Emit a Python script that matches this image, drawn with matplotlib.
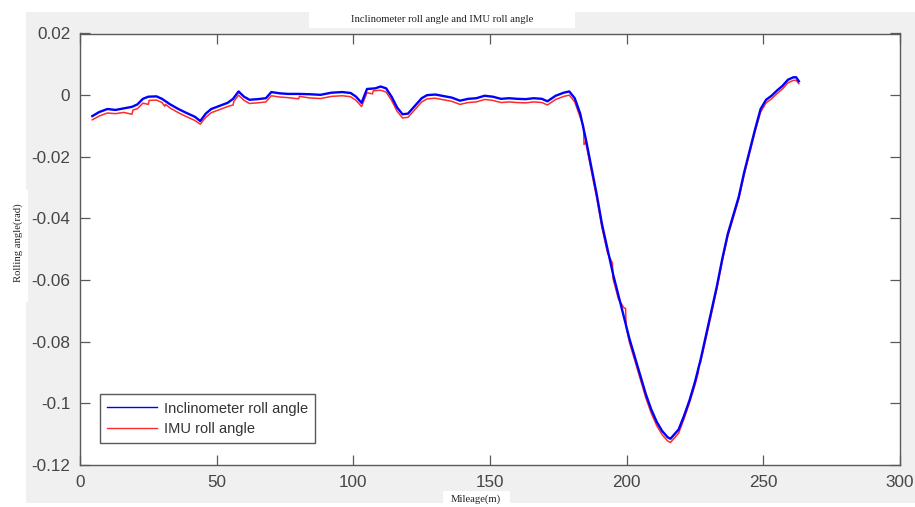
import numpy as np
import matplotlib
matplotlib.use('Agg')
import matplotlib.pyplot as plt
from matplotlib.patches import Rectangle

# inclinometer roll angle (rad) vs mileage (m)
incl_x = [4.5, 7, 10, 13, 16, 19, 21, 23, 25, 28, 30, 33, 36, 39, 42, 44, 46, 48, 51, 54,
          56, 58, 60, 62, 65, 68, 70, 73, 76, 80, 84, 88, 92, 96, 99, 101, 103, 105, 108, 110,
          112, 114, 116, 118, 120, 122, 125, 127, 130, 133, 136, 139, 142, 145, 148, 151, 154, 157, 160, 163,
          166, 169, 171, 174, 177, 179, 181, 183, 185, 187, 189, 191, 193, 195, 197, 199, 201, 203, 205, 207,
          209, 211, 213, 215, 216, 217, 219, 221, 223, 225, 227, 229, 231, 233, 235, 237, 239, 241, 243, 245,
          247, 249, 251, 253, 255, 257, 259, 261, 262, 263]
incl_y = [-0.0068, -0.0055, -0.0045, -0.0048, -0.0043, -0.0038, -0.0030, -0.0012, -0.0005, -0.0004,
          -0.0012, -0.0030, -0.0045, -0.0058, -0.0070, -0.0084, -0.0060, -0.0045, -0.0035, -0.0025,
          -0.0012, 0.0012, -0.0005, -0.0015, -0.0013, -0.0010, 0.0010, 0.0006, 0.0004, 0.0004,
          0.0003, 0.0001, 0.0008, 0.0010, 0.0007, -0.0005, -0.0025, 0.0020, 0.0022, 0.0028,
          0.0022, -0.0005, -0.0040, -0.0062, -0.0060, -0.0040, -0.0010, 0.0000, 0.0002, -0.0003,
          -0.0008, -0.0018, -0.0012, -0.0010, -0.0002, -0.0005, -0.0012, -0.0010, -0.0012, -0.0013,
          -0.0010, -0.0012, -0.0020, -0.0002, 0.0008, 0.0012, -0.0010, -0.0060, -0.0140, -0.0230,
          -0.0320, -0.0420, -0.0500, -0.0580, -0.0650, -0.0720, -0.0790, -0.0850, -0.0910, -0.0970,
          -0.1020, -0.1060, -0.1090, -0.1110, -0.1115, -0.1105, -0.1085, -0.1040, -0.0990, -0.0930,
          -0.0860, -0.0780, -0.0700, -0.0620, -0.0530, -0.0450, -0.0390, -0.0330, -0.0250, -0.0180,
          -0.0110, -0.0045, -0.0015, -0.0002, 0.0015, 0.0030, 0.0050, 0.0058, 0.0058, 0.0045]

# IMU roll angle (rad) vs mileage (m)
imu_x = [4.5, 7, 10, 13, 16, 19, 19.4, 21, 23, 25, 25.3, 28, 30, 31, 31.3, 33, 36, 39, 42, 44,
         46, 48, 51, 54, 56, 56.3, 58, 60, 62, 65, 68, 70, 73, 76, 80, 80.3, 84, 88, 92, 96,
         99, 101, 103, 105, 107, 107.3, 110, 112, 114, 116, 118, 120, 122, 125, 127, 130, 133, 136, 139, 142,
         145, 148, 151, 154, 157, 160, 163, 166, 169, 171, 174, 177, 179, 181, 183, 184.2, 184.4, 185, 187, 189,
         191, 193, 194.8, 195.0, 197, 199, 199.6, 199.8, 201, 203, 205, 207, 209, 211, 213, 215, 216, 217, 219, 221,
         223, 225, 226.2, 226.4, 227, 229, 231, 233, 235, 237, 239, 241, 243, 245, 247, 249, 251, 253, 255, 257,
         259, 261, 262, 263]
imu_y = [-0.0080, -0.0068, -0.0058, -0.0060, -0.0056, -0.0062, -0.0048, -0.0044, -0.0026, -0.0030,
         -0.0017, -0.0016, -0.0024, -0.0036, -0.0030, -0.0042, -0.0057, -0.0070, -0.0082, -0.0094,
         -0.0072, -0.0057, -0.0047, -0.0037, -0.0032, -0.0020, 0.0000, -0.0017, -0.0027, -0.0025,
         -0.0022, -0.0002, -0.0006, -0.0008, -0.0012, -0.0004, -0.0009, -0.0011, -0.0004, -0.0002,
         -0.0005, -0.0017, -0.0037, 0.0008, 0.0004, 0.0014, 0.0016, 0.0010, -0.0017, -0.0052,
         -0.0074, -0.0072, -0.0052, -0.0022, -0.0012, -0.0010, -0.0015, -0.0020, -0.0030, -0.0024,
         -0.0022, -0.0014, -0.0017, -0.0024, -0.0022, -0.0024, -0.0025, -0.0022, -0.0024, -0.0032,
         -0.0014, -0.0004, 0.0000, -0.0022, -0.0072, -0.0100, -0.0160, -0.0152, -0.0242, -0.0332,
         -0.0432, -0.0512, -0.0545, -0.0595, -0.0662, -0.0690, -0.0692, -0.0752, -0.0802, -0.0862,
         -0.0922, -0.0982, -0.1032, -0.1072, -0.1102, -0.1122, -0.1127, -0.1117, -0.1097, -0.1050,
         -0.0998, -0.0940, -0.0900, -0.0875, -0.0868, -0.0790, -0.0710, -0.0628, -0.0538, -0.0458,
         -0.0398, -0.0338, -0.0258, -0.0188, -0.0118, -0.0055, -0.0025, -0.0012, 0.0005, 0.0020,
         0.0040, 0.0048, 0.0048, 0.0037]

x_ticks = [0, 50, 100, 150, 200, 250, 300]
y_ticks = [0.02, 0, -0.02, -0.04, -0.06, -0.08, -0.1, -0.12]
y_tick_labels = ['0.02', '0', '-0.02', '-0.04', '-0.06', '-0.08', '-0.1', '-0.12']

W, H = 915, 507
fig = plt.figure(figsize=(W / 100, H / 100), dpi=100)
fig.patch.set_facecolor('white')

# gray MATLAB figure area and the white boxes behind the labels
fig.patches.append(Rectangle((26 / W, 1 - 503 / H), 1 - 26 / W, (503 - 12) / H,
                             transform=fig.transFigure, facecolor='#f0f0f0', edgecolor='none', zorder=-2))
for bx0, by0, bx1, by1 in [(309, 12, 575, 28), (0, 190, 28, 302), (443, 491, 510, 507)]:
    fig.patches.append(Rectangle((bx0 / W, 1 - by1 / H), (bx1 - bx0) / W, (by1 - by0) / H,
                                 transform=fig.transFigure, facecolor='white', edgecolor='none', zorder=-1))

ax = fig.add_axes([80 / W, 1 - 465 / H, 820 / W, (465 - 33.5) / H])
ax.set_facecolor('white')

ax.plot(imu_x, imu_y, color='#ff2a2a', linewidth=1.1, label='IMU roll angle', zorder=2)
ax.plot(incl_x, incl_y, color='#0000ff', linewidth=1.7, label='Inclinometer roll angle', zorder=3)

ax.set_xlim(0, 300)
ax.set_ylim(-0.12, 0.02)
ax.set_xticks(x_ticks)
ax.set_xticklabels([str(v) for v in x_ticks])
ax.set_yticks(y_ticks)
ax.set_yticklabels(y_tick_labels)
ax.tick_params(direction='in', length=7, width=0.9, color='#5a5a5a', labelcolor='#454545',
               labelsize=12.3, top=True, right=True, pad=7)
for lab in ax.get_xticklabels() + ax.get_yticklabels():
    lab.set_family('Liberation Sans')
for sp in ax.spines.values():
    sp.set_color('#5a5a5a')
    sp.set_linewidth(1.0)

handles, labels = ax.get_legend_handles_labels()
leg = ax.legend(handles[::-1], labels[::-1], loc='lower left', bbox_to_anchor=(0.024, 0.05),
                prop={'family': 'Liberation Sans', 'size': 10.5}, handlelength=3.4, fancybox=False,
                borderaxespad=0, framealpha=1, labelspacing=0.45, borderpad=0.5, handletextpad=0.5)
leg.get_frame().set_edgecolor('#5a5a5a')
leg.get_frame().set_linewidth(1.0)
for ln in leg.get_lines():
    ln.set_linewidth(1.0)
for txt in leg.get_texts():
    txt.set_color('#333333')

fig.text(442 / W, 1 - 19 / H, 'Inclinometer roll angle and IMU roll angle', ha='center', va='center',
         family='Liberation Serif', fontsize=7.7, color='#222222')
fig.text(18 / W, 1 - 243 / H, 'Rolling angle(rad)', ha='center', va='center', rotation=90,
         family='Liberation Serif', fontsize=7.7, color='#222222')
fig.text(476 / W, 1 - 499 / H, 'Mileage(m)', ha='center', va='center',
         family='Liberation Serif', fontsize=7.7, color='#222222')

fig.savefig('out.png', dpi=100, facecolor=fig.get_facecolor())
